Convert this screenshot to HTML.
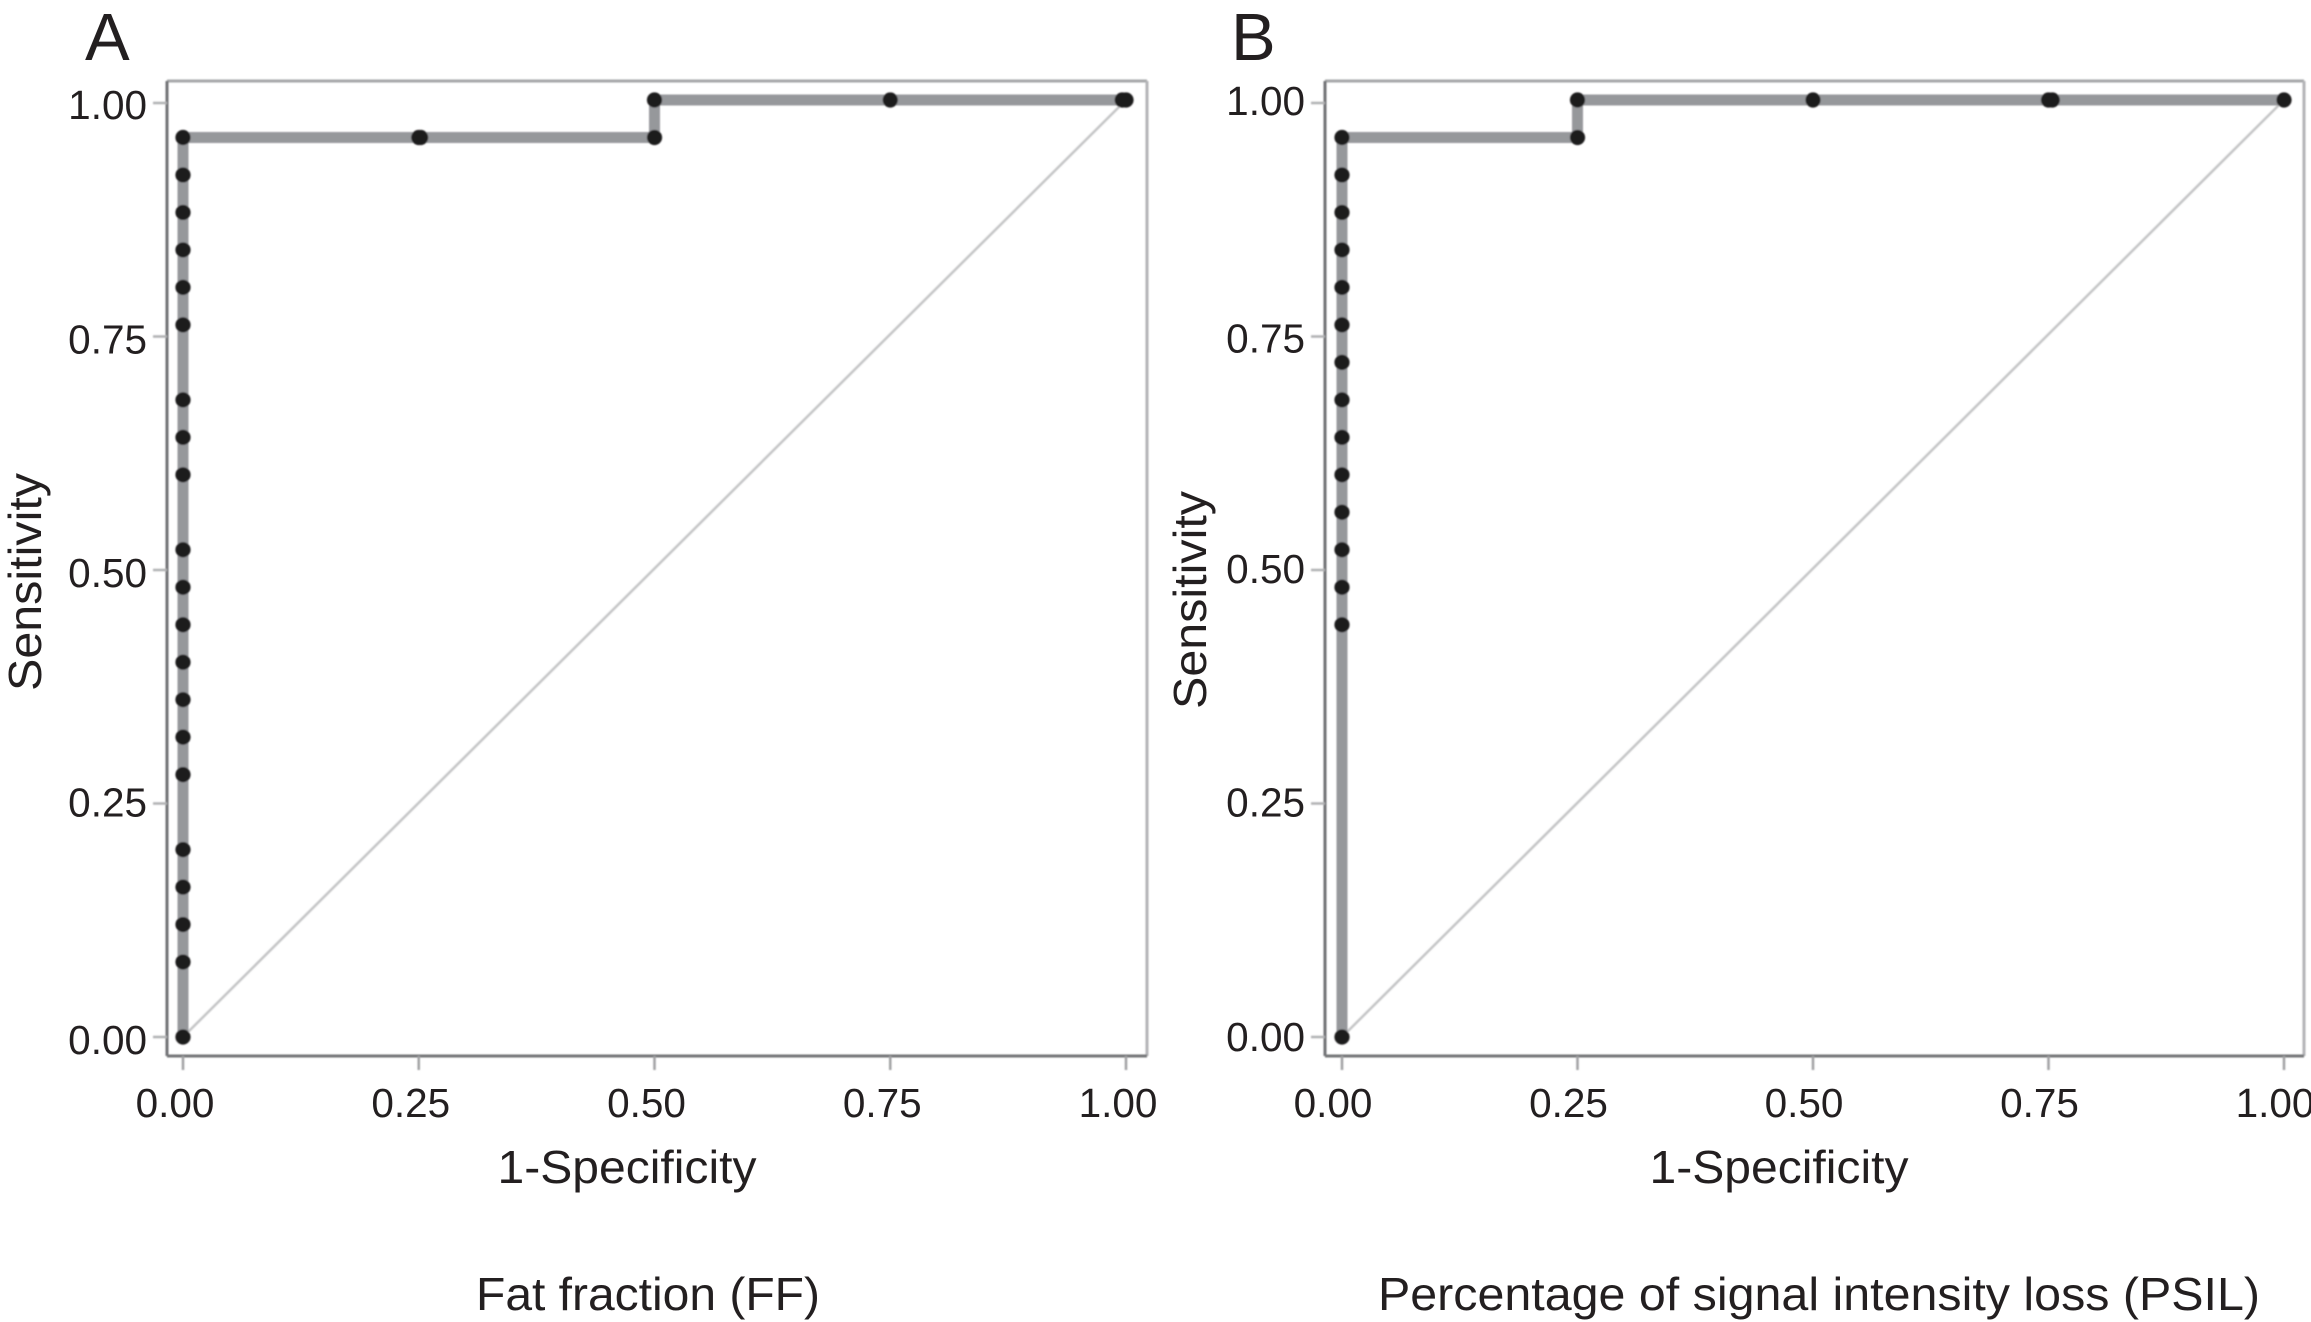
<!DOCTYPE html>
<html lang="en">
<head>
<meta charset="utf-8">
<title>ROC curves for fat fraction and signal intensity loss</title>
<style>
html,body{margin:0;padding:0;background:#fff;}
svg{display:block;}
text{font-family:"Liberation Sans",Arial,sans-serif;fill:#231f20;}
</style>
</head>
<body>
<svg id="figure" xmlns="http://www.w3.org/2000/svg" width="2311" height="1322" viewBox="0 0 2311 1322">
  <defs>
    <filter id="soft" x="-5%" y="-5%" width="110%" height="110%"><feGaussianBlur stdDeviation="0.9"/></filter>
  </defs>
  <rect x="0" y="0" width="2311" height="1322" fill="#ffffff"/>
  <text x="85" y="60" font-size="67">A</text>
  <text x="1231" y="60" font-size="67">B</text>
  <text x="627" y="1183" font-size="46" text-anchor="middle" textLength="259" lengthAdjust="spacingAndGlyphs">1-Specificity</text>
  <text x="1779" y="1183" font-size="46" text-anchor="middle" textLength="259" lengthAdjust="spacingAndGlyphs">1-Specificity</text>
  <text transform="translate(41,582) rotate(-90)" font-size="46" text-anchor="middle" textLength="218" lengthAdjust="spacingAndGlyphs">Sensitivity</text>
  <text transform="translate(1206,600) rotate(-90)" font-size="46" text-anchor="middle" textLength="218" lengthAdjust="spacingAndGlyphs">Sensitivity</text>
  <text x="648" y="1310" font-size="46" text-anchor="middle" textLength="344" lengthAdjust="spacingAndGlyphs">Fat fraction (FF)</text>
  <text x="1819" y="1310" font-size="46" text-anchor="middle" textLength="882" lengthAdjust="spacingAndGlyphs">Percentage of signal intensity loss (PSIL)</text>
</svg>
<script>
var tickValues = [0, 0.25, 0.5, 0.75, 1];
var tickLabels = ["0.00", "0.25", "0.50", "0.75", "1.00"];

var fprA = [0, 0, 0, 0, 0, 0, 0, 0, 0, 0, 0, 0, 0, 0, 0, 0, 0, 0, 0, 0, 0, 0.25, 0.252, 0.5, 0.5, 0.75, 0.996, 1];
var tprA = [0, 0.08, 0.12, 0.16, 0.20, 0.28, 0.32, 0.36, 0.40, 0.44, 0.48, 0.52, 0.60, 0.64, 0.68, 0.76, 0.80, 0.84, 0.88, 0.92, 0.96, 0.96, 0.96, 0.96, 1, 1, 1, 1];

var fprB = [0, 0, 0, 0, 0, 0, 0, 0, 0, 0, 0, 0, 0, 0, 0, 0.25, 0.25, 0.5, 0.75, 0.754, 1];
var tprB = [0, 0.44, 0.48, 0.52, 0.56, 0.60, 0.64, 0.68, 0.72, 0.76, 0.80, 0.84, 0.88, 0.92, 0.96, 0.96, 1, 1, 1, 1, 1];

var SVGNS = "http://www.w3.org/2000/svg";
var figure = document.getElementById("figure");

function make(tag, attrs, parent) {
  var node = document.createElementNS(SVGNS, tag);
  for (var key in attrs) { node.setAttribute(key, attrs[key]); }
  parent.appendChild(node);
  return node;
}

function drawPanel(cfg, fpr, tpr) {
  function xScale(v) { return cfg.x0 + (cfg.x1 - cfg.x0) * v; }
  function yScale(v) { return cfg.y0 + (cfg.y1 - cfg.y0) * v; }
  function yTick(v) { return cfg.y0 + (cfg.yTickTop - cfg.y0) * v; }

  var group = make("g", {}, figure);
  
  

  var marks = make("g", { filter: "url(#soft)" }, group);
  
  

  var frameSides = [
    [cfg.left, cfg.top, cfg.right, cfg.top, "#a6a7a9"],
    [cfg.right, cfg.top, cfg.right, cfg.bottom, "#b2b3b6"],
    [cfg.left, cfg.top, cfg.left, cfg.bottom, "#707174"],
    [cfg.left, cfg.bottom, cfg.right, cfg.bottom, "#737477"]
  ];
  frameSides.forEach(function (s) {
    var side = make("line", { x1: s[0], y1: s[1], x2: s[2], y2: s[3], stroke: s[4], "stroke-width": 3 }, marks);
    
    
  });

  tickValues.forEach(function (v, i) {
    var xt = make("line", { x1: xScale(v), x2: xScale(v), y1: cfg.bottom, y2: cfg.bottom + 14, stroke: "#a0a1a3", "stroke-width": 2.5 }, marks);
    
    

    var yt = make("line", { x1: cfg.left - 14, x2: cfg.left, y1: yTick(v), y2: yTick(v), stroke: "#b0b1b3", "stroke-width": 2.5 }, marks);
    
    

    var xl = make("text", { x: xScale(v) + cfg.xLabelShift, y: 1117, "font-size": 40.5, "text-anchor": "middle" }, group);
    
    
    xl.textContent = tickLabels[i];

    var yl = make("text", { x: cfg.left - 20, y: yTick(v) + cfg.yLabelShift + cfg.yLabelNudge[i], "font-size": 40.5, "text-anchor": "end" }, group);
    
    
    yl.textContent = tickLabels[i];
  });

  var diagonal = make("line", { x1: xScale(0), y1: yScale(0), x2: xScale(1), y2: yScale(1), stroke: "#c4c5c6", "stroke-width": 2.5 }, marks);
  
  

  var pts = fpr.map(function (v, i) { return xScale(v).toFixed(1) + "," + yScale(tpr[i]).toFixed(1); }).join(" ");
  var curve = make("polyline", { points: pts, fill: "none", stroke: "#96989b", "stroke-width": 11, "stroke-linejoin": "miter" }, marks);
  
  

  fpr.forEach(function (v, i) {
    var dot = make("circle", { cx: xScale(v), cy: yScale(tpr[i]), r: 7.6, fill: "#1e1a1d" }, marks);
    
    
  });
}

drawPanel({ left: 167, right: 1147, top: 81, bottom: 1056, x0: 183, x1: 1126, y0: 1037, y1: 100, yTickTop: 103, xLabelShift: -8, yLabelShift: 17, yLabelNudge: [0, -4, 0, 0, -1] }, fprA, tprA);
drawPanel({ left: 1325, right: 2304, top: 81, bottom: 1056, x0: 1342, x1: 2284, y0: 1037, y1: 100, yTickTop: 103, xLabelShift: -9, yLabelShift: 13, yLabelNudge: [1, 0, 0, 3, -1] }, fprB, tprB);
</script>
</body>
</html>
